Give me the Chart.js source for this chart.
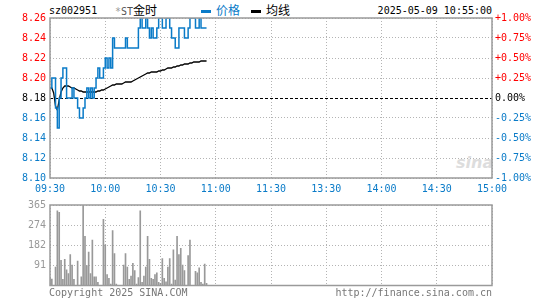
<!DOCTYPE html>
<html>
<head>
<meta charset="utf-8">
<script src="https://cdn.jsdelivr.net/npm/chart.js@4.4.1/dist/chart.umd.min.js"></script>
<style>
  body { margin: 0; background: #fff; width: 545px; height: 300px; overflow: hidden; position: relative;
         font-family: "DejaVu Sans Mono", monospace; font-size: 10px; }
  canvas { position: absolute; left: 0; }
  .t { position: absolute; white-space: nowrap; line-height: 12px; }
  .cjk { font-family: "Noto Sans CJK SC", sans-serif; font-size: 12px; }
  .dash { position: absolute; width: 10px; height: 3px; }
</style>
</head>
<body>
<div class="t" style="left:49px;top:5px;color:#000">sz002951</div>
<div class="t" style="left:115px;top:4px;color:#000"><span style="color:#999">*</span><span style="color:#555">ST</span><span class="cjk">金时</span></div>
<div class="dash" style="left:201px;top:10px;background:#0a7bc8"></div>
<div class="t cjk" style="left:216px;top:4px;color:#0a7bc8">价格</div>
<div class="dash" style="left:251px;top:10px;background:#000"></div>
<div class="t cjk" style="left:266px;top:4px;color:#000">均线</div>
<div class="t" style="right:53px;top:5px;color:#000">2025-05-09 10:55:00</div>
<div class="t" style="left:456px;top:153px;color:#ddd;font:italic bold 16px 'DejaVu Sans';">sina</div>
<canvas id="priceChart" width="545" height="195" style="top:0"></canvas>
<canvas id="volChart" width="545" height="105" style="top:195px"></canvas>
<div class="t" style="left:49px;top:287px;color:#777">Copyright 2025 SINA.COM</div>
<div class="t" style="right:53px;top:287px;color:#777">http://finance.sina.com.cn</div>
<script>
// one point per minute from 09:30 to 10:55
var timeLabels = ['09:30', '10:00', '10:30', '11:00', '11:30', '13:30', '14:00', '14:30', '15:00'];
var prevClose = 8.18;
var pctLabels = ['-1.00%', '-0.75%', '-0.50%', '-0.25%', '0.00%', '+0.25%', '+0.50%', '+0.75%', '+1.00%'];
var volTickLabels = ['', '91', '182', '274', '365'];

var price = [
  8.19, 8.20, 8.20, 8.17, 8.15, 8.18, 8.20, 8.21, 8.21, 8.18,
  8.18, 8.18, 8.19, 8.18, 8.18, 8.17, 8.16, 8.16, 8.17, 8.18,
  8.19, 8.18, 8.19, 8.18, 8.19, 8.20, 8.21, 8.20, 8.20, 8.21,
  8.22, 8.21, 8.22, 8.21, 8.24, 8.23, 8.23, 8.23, 8.23, 8.23,
  8.23, 8.24, 8.23, 8.23, 8.23, 8.23, 8.23, 8.23, 8.25, 8.26,
  8.25, 8.25, 8.26, 8.25, 8.24, 8.25, 8.24, 8.24, 8.25, 8.26,
  8.26, 8.25, 8.25, 8.26, 8.26, 8.25, 8.24, 8.24, 8.23, 8.23,
  8.25, 8.25, 8.25, 8.24, 8.24, 8.25, 8.26, 8.26, 8.26, 8.25,
  8.25, 8.26, 8.25, 8.25, 8.25, 8.25
];
var avgPrice = [
  8.190, 8.190, 8.185, 8.172, 8.168, 8.178, 8.186, 8.190, 8.192, 8.192,
  8.192, 8.191, 8.190, 8.190, 8.189, 8.188, 8.187, 8.187, 8.186, 8.186,
  8.186, 8.186, 8.186, 8.186, 8.186, 8.186, 8.187, 8.187, 8.188, 8.188,
  8.189, 8.190, 8.191, 8.192, 8.193, 8.193, 8.194, 8.194, 8.194, 8.194,
  8.195, 8.196, 8.196, 8.196, 8.196, 8.197, 8.198, 8.199, 8.200, 8.201,
  8.202, 8.203, 8.204, 8.205, 8.205, 8.206, 8.206, 8.206, 8.206, 8.207,
  8.207, 8.208, 8.208, 8.209, 8.210, 8.210, 8.210, 8.211, 8.211, 8.212,
  8.212, 8.213, 8.213, 8.214, 8.214, 8.214, 8.215, 8.215, 8.216, 8.216,
  8.216, 8.216, 8.217, 8.217, 8.217, 8.217
];
var volume = [
  35, 29, 0, 83, 339, 332, 114, 28, 119, 71,
  54, 140, 93, 28, 0, 111, 0, 39, 365, 223,
  90, 151, 54, 206, 39, 39, 14, 0, 0, 300,
  184, 49, 32, 6, 249, 145, 6, 0, 0, 0,
  93, 145, 83, 28, 43, 101, 68, 6, 36, 339,
  14, 43, 83, 223, 119, 32, 28, 49, 58, 14,
  10, 122, 32, 17, 83, 122, 6, 162, 25, 223,
  140, 169, 93, 68, 0, 136, 206, 0, 0, 64,
  58, 80, 14, 6, 97, 10
];

var BLUE = '#0a7bc8';
var GRID = '#b4b4b4';
Chart.defaults.font.family = '"DejaVu Sans Mono", monospace';
Chart.defaults.font.size = 10;
Chart.defaults.animation = false;

function xy(arr) {
  return arr.map(function (v, i) { return { x: i, y: v }; });
}

// frame round the plot and dashed previous close line
var framePlugin = {
  id: 'frame',
  beforeDatasetsDraw: function (chart, args, opts) {
    if (opts.base == null) return;
    var ctx = chart.ctx, a = chart.chartArea;
    var y = Math.round(chart.scales.y.getPixelForValue(opts.base)) + 0.5;
    ctx.save();
    ctx.strokeStyle = '#000';
    ctx.lineWidth = 1;
    ctx.setLineDash([3, 2]);
    ctx.beginPath();
    ctx.moveTo(a.left, y);
    ctx.lineTo(a.right, y);
    ctx.stroke();
    ctx.restore();
  },
  afterDatasetsDraw: function (chart) {
    var ctx = chart.ctx, a = chart.chartArea;
    ctx.save();
    ctx.strokeStyle = '#9a9a9a';
    ctx.lineWidth = 1.5;
    ctx.strokeRect(a.left, a.top, a.right - a.left, a.bottom - a.top);
    ctx.restore();
  }
};

function timeAxis(showLabels, h) {
  return {
    type: 'linear', min: 0, max: 240, offset: false,
    afterFit: function (s) { s.height = h; },
    afterBuildTicks: function (s) {
      s.ticks = timeLabels.map(function (t, i) { return { value: i * 30 }; });
    },
    grid: { color: GRID, drawTicks: false, offset: false },
    border: { display: false, dash: [1, 2] },
    ticks: {
      display: showLabels, color: BLUE, padding: 5, maxRotation: 0, autoSkip: false,
      callback: function (v) { return timeLabels[Math.round(v / 30)]; }
    }
  };
}

new Chart(document.getElementById('priceChart'), {
  type: 'line',
  data: {
    datasets: [
      { data: xy(price), borderColor: BLUE, borderWidth: 1.5, pointRadius: 0, stepped: true, yAxisID: 'y' },
      { data: xy(avgPrice), borderColor: '#000', borderWidth: 1.3, pointRadius: 0, tension: 0, yAxisID: 'y' }
    ]
  },
  options: {
    responsive: false,
    layout: { padding: { top: 18, left: 0, right: 0, bottom: 0 } },
    plugins: { legend: { display: false }, tooltip: { enabled: false }, frame: { base: prevClose } },
    scales: {
      x: timeAxis(true, 17),
      y: {
        position: 'left', min: 8.10, max: 8.26,
        afterFit: function (s) { s.width = 50; },
        afterBuildTicks: function (s) {
          var t = [];
          for (var i = 0; i <= 8; i++) t.push({ value: 8.10 + i * 0.02 });
          s.ticks = t;
        },
        grid: {
          drawTicks: false,
          color: function (c) { return Math.abs(c.tick.value - prevClose) < 0.001 ? 'rgba(0,0,0,0)' : GRID; }
        },
        border: { display: false, dash: [1, 2] },
        ticks: {
          padding: 4,
          callback: function (v) { return v.toFixed(2); },
          color: function (c) {
            var v = c.tick.value;
            if (Math.abs(v - prevClose) < 0.001) return '#000';
            return v > prevClose ? '#f00' : BLUE;
          }
        }
      },
      y2: {
        position: 'right', min: -1, max: 1,
        afterFit: function (s) { s.width = 53; },
        afterBuildTicks: function (s) {
          s.ticks = pctLabels.map(function (t, i) { return { value: -1 + i * 0.25 }; });
        },
        grid: { display: false, drawTicks: false },
        border: { display: false },
        ticks: {
          padding: 3,
          callback: function (v) { return pctLabels[Math.round((v + 1) / 0.25)]; },
          color: function (c) {
            var v = c.tick.value;
            if (Math.abs(v) < 0.001) return '#000';
            return v > 0 ? '#f00' : BLUE;
          }
        }
      }
    }
  },
  plugins: [framePlugin]
});

new Chart(document.getElementById('volChart'), {
  type: 'bar',
  data: {
    datasets: [{ data: xy(volume), backgroundColor: '#999', barThickness: 1, borderWidth: 0 }]
  },
  options: {
    responsive: false,
    layout: { padding: { top: 6, left: 0, right: 53, bottom: 0 } },
    plugins: { legend: { display: false }, tooltip: { enabled: false }, frame: {} },
    scales: {
      x: timeAxis(false, 14.5),
      y: {
        min: 0, max: 365,
        afterFit: function (s) { s.width = 50; },
        afterBuildTicks: function (s) {
          s.ticks = volTickLabels.map(function (t, i) { return { value: i * 365 / 4 }; });
        },
        grid: { color: GRID, drawTicks: false },
        border: { display: false, dash: [1, 2] },
        ticks: {
          color: '#999', padding: 4,
          callback: function (v) { return volTickLabels[Math.round(v / (365 / 4))]; }
        }
      }
    }
  },
  plugins: [framePlugin]
});
</script>
</body>
</html>
